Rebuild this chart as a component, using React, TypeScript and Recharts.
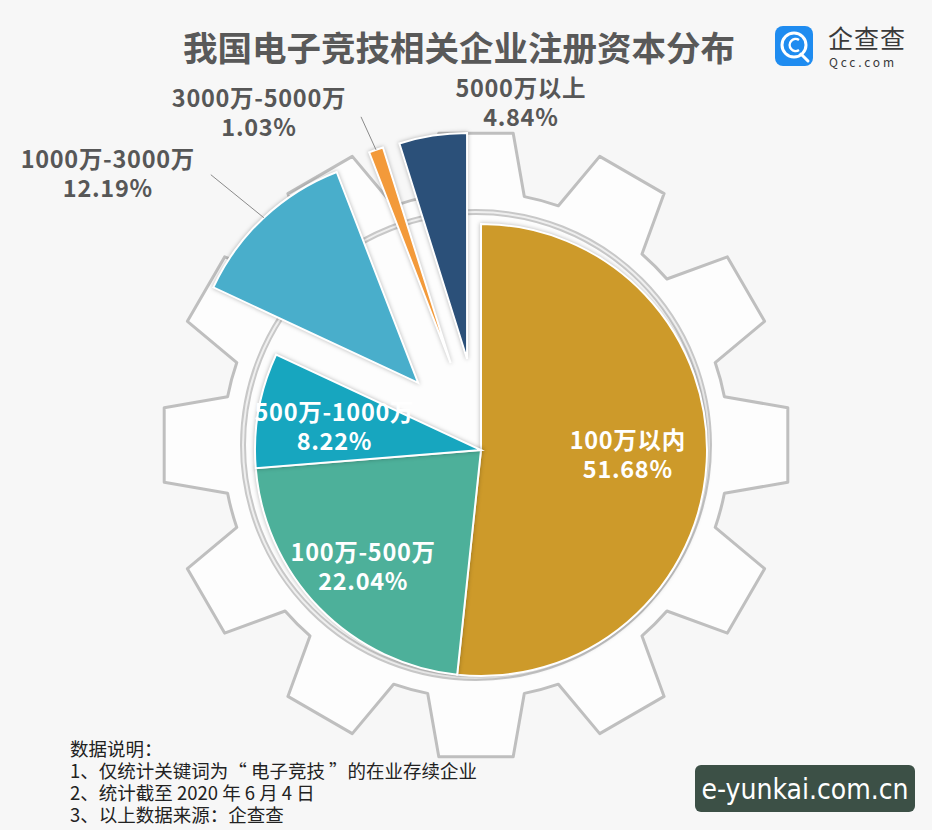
import { PieChart, Pie, Cell } from "recharts";

const CATEGORIES = ["100万以内", "100万-500万", "500万-1000万", "1000万-3000万", "3000万-5000万", "5000万以上"];
const SHARES = [51.68, 22.04, 8.22, 12.19, 1.03, 4.84];
const EXPLODED = ["1000万-3000万", "3000万-5000万", "5000万以上"];

const TITLE = "我国电子竞技相关企业注册资本分布";
const NOTES = ["数据说明：", "1、仅统计关键词为“ 电子竞技 ”的在业存续企业", "2、统计截至 2020 年 6 月 4 日", "3、以上数据来源：企查查"];

const COLORS: Record<string, string> = {
	"100万以内": "#cd9a2a",
	"100万-500万": "#4db09a",
	"500万-1000万": "#17a6bf",
	"1000万-3000万": "#49aecb",
	"3000万-5000万": "#f39a3a",
	"5000万以上": "#2b5079",
};

// small nudges for the labels inside the pie
const INSIDE_NUDGE: Record<string, [number, number]> = {
	"100万以内": [-5, -5],
	"100万-500万": [-9, 9],
	"500万-1000万": [3, 2],
};

// outside labels: text centre and leader elbow, relative to the outer arc midpoint
const OUTSIDE_LABEL: Record<string, { dx: number; dy: number; leader?: [number, number] }> = {
	"1000万-3000万": { dx: -156, dy: -46, leader: [-53, -43] },
	"3000万-5000万": { dx: -117, dy: -39, leader: [-15, -33] },
	"5000万以上": { dx: 88, dy: -35 },
};

const W = 932;
const H = 830;
const CX = 476;
const CY = 445;
const R = 226;
const EXPLODE = 92;
const RAD = Math.PI / 180;
const FONT = "'Noto Sans CJK SC', 'Noto Sans', sans-serif";

const data = CATEGORIES.map((name, i) => ({ name, value: SHARES[i] }));
const total = SHARES.reduce((a, b) => a + b, 0);

function midAngleOf(index: number) {
	let before = 0;
	for (let i = 0; i < index; i++) before += SHARES[i];
	return 90 - (360 * (before + SHARES[index] / 2)) / total;
}

function gearPath() {
	const tip = 314;
	const root = 253;
	const pt = (r: number, a: number) => {
		const x = CX + r * Math.sin(a * RAD);
		const y = CY - r * Math.cos(a * RAD);
		return `${x.toFixed(1)} ${y.toFixed(1)}`;
	};
	let d = "";
	for (let k = 0; k < 12; k++) {
		const a = k * 30;
		d += `${k === 0 ? "M" : "L"} ${pt(root, a - 11)} L ${pt(tip, a - 6.8)} L ${pt(tip, a + 6.8)} L ${pt(root, a + 11)} `;
		d += `A ${root} ${root} 0 0 1 ${pt(root, a + 19)} `;
	}
	return d + "Z";
}

function TwoLines({ x, y, top, bottom, fill }: { x: number; y: number; top: string; bottom: string; fill: string }) {
	const common = {
		textAnchor: "middle" as const,
		dominantBaseline: "central" as const,
		fontSize: 23.5,
		fontWeight: 600,
		letterSpacing: 0.7,
		fontFamily: FONT,
		fill,
	};
	return (
		<g>
			<text x={x} y={y - 14} {...common}>{top}</text>
			<text x={x} y={y + 15} {...common}>{bottom}</text>
		</g>
	);
}

function InsideLabel(props: any) {
	const { cx, cy, midAngle, name, value } = props;
	if (EXPLODED.includes(name)) return null;
	const r = 152;
	const [nx, ny] = INSIDE_NUDGE[name] || [0, 0];
	const x = cx + r * Math.cos(-midAngle * RAD) + nx;
	const y = cy + r * Math.sin(-midAngle * RAD) + ny;
	return <TwoLines x={x} y={y} top={name} bottom={`${value.toFixed(2)}%`} fill="#fff" />;
}

function makeOutsideLabel(target: string) {
	return function OutsideLabel(props: any) {
		const { cx, cy, midAngle, name, value } = props;
		if (name !== target) return null;
		const layout = OUTSIDE_LABEL[name];
		const ox = cx + R * Math.cos(-midAngle * RAD);
		const oy = cy + R * Math.sin(-midAngle * RAD);
		return (
			<g>
				{layout.leader && (
					<line x1={ox} y1={oy} x2={ox + layout.leader[0]} y2={oy + layout.leader[1]} stroke="#8a8a8a" strokeWidth={1} />
				)}
				<TwoLines x={ox + layout.dx} y={oy + layout.dy} top={name} bottom={`${value.toFixed(2)}%`} fill="#575757" />
			</g>
		);
	};
}

export default function App() {
	return (
		<div style={{ position: "absolute", left: 0, top: 0, width: W, height: H, background: "#f7f7f7", overflow: "hidden" }}>
			<style>{`.recharts-sector { filter: drop-shadow(0 0 2px rgba(0,0,0,0.28)); }`}</style>
			<svg width={W} height={H} style={{ position: "absolute", left: 0, top: 0 }}>
				<path d={gearPath()} fill="#fdfdfd" stroke="#bfbfbf" strokeWidth={3} strokeLinejoin="round" />
				<circle cx={CX} cy={CY} r={233} fill="none" stroke="#c8c8c8" strokeWidth={6} />
				<circle cx={CX} cy={CY} r={233} fill="none" stroke="#efefef" strokeWidth={2} />
			</svg>
			<div style={{ position: "absolute", left: 0, top: 0 }}>
				<PieChart width={W} height={H}>
					<Pie
						data={data}
						dataKey="value"
						nameKey="name"
						cx={CX}
						cy={CY}
						outerRadius={R}
						startAngle={90}
						endAngle={-270}
						stroke="#fff"
						strokeWidth={2}
						label={InsideLabel}
						labelLine={false}
						isAnimationActive={false}
					>
						{data.map((d) => (
							<Cell
								key={d.name}
								fill={EXPLODED.includes(d.name) ? "transparent" : COLORS[d.name]}
								stroke={EXPLODED.includes(d.name) ? "none" : "#fff"}
							/>
						))}
					</Pie>
					{EXPLODED.map((target) => {
						const i = CATEGORIES.indexOf(target);
						const mid = midAngleOf(i);
						const ex = CX + EXPLODE * Math.cos(mid * RAD);
						const ey = CY - EXPLODE * Math.sin(mid * RAD);
						return (
							<Pie
								key={target}
								data={data}
								dataKey="value"
								nameKey="name"
								cx={ex}
								cy={ey}
								outerRadius={R}
								startAngle={90}
								endAngle={-270}
								label={makeOutsideLabel(target)}
								labelLine={false}
								isAnimationActive={false}
							>
								{data.map((d) => (
									<Cell
										key={d.name}
										fill={d.name === target ? COLORS[d.name] : "transparent"}
										stroke={d.name === target ? "#fff" : "none"}
										strokeWidth={2}
									/>
								))}
							</Pie>
						);
					})}
				</PieChart>
			</div>
			<svg width={W} height={H} style={{ position: "absolute", left: 0, top: 0, pointerEvents: "none" }}>
				<text x={459} y={46} textAnchor="middle" dominantBaseline="central" fontSize={34.5} fontWeight={700} fill="#595959" fontFamily={FONT}>
					{TITLE}
				</text>
				<rect x={775} y={26} width={38} height={40} rx={8} fill="#1f8cf0" />
				<circle cx={794} cy={45} r={12} fill="none" stroke="#fff" strokeWidth={3} />
				<path d="M 799 40 A 6 6 0 1 0 799 50" fill="none" stroke="#fff" strokeWidth={2.5} />
				<line x1={801} y1={54} x2={808} y2={61} stroke="#fff" strokeWidth={3} strokeLinecap="round" />
				<text x={828} y={48} fontSize={25} fill="#3a3a3a" letterSpacing={1} fontFamily={FONT}>企查查</text>
				<text x={829} y={67} fontSize={12} fill="#3a3a3a" letterSpacing={2.8} fontFamily={FONT}>Qcc.com</text>
				{NOTES.map((line, i) => (
					<text key={i} x={70} y={748 + i * 22} dominantBaseline="central" fontSize={18.5} fill="#222" fontFamily={FONT}>
						{line}
					</text>
				))}
				<rect x={695} y={765} width={220} height={47} rx={6} fill="#3c5046" />
				<text x={805} y={789} textAnchor="middle" dominantBaseline="central" fontSize={28} fill="#fff" fontFamily="'Liberation Sans Narrow', 'DejaVu Sans Condensed', sans-serif">
					e-yunkai.com.cn
				</text>
			</svg>
		</div>
	);
}
